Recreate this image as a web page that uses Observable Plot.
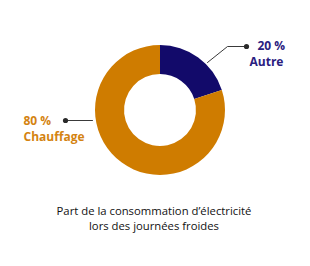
<!DOCTYPE html>
<html>
<head>
<meta charset="utf-8">
<script src="https://cdn.jsdelivr.net/npm/d3@7"></script>
<script src="https://cdn.jsdelivr.net/npm/@observablehq/plot@0.6"></script>
<style>
  html, body { margin: 0; padding: 0; background: #fff; }
  #chart { width: 310px; height: 266px; position: relative; font-family: "Open Sans", sans-serif; }
  #caption { position: absolute; left: 0; top: 203px; width: 308px; text-align: center; font-size: 11.3px; line-height: 15px; color: #111; }
</style>
</head>
<body>
<div id="chart"></div>
<script>
const categories = ["Autre", "Chauffage"];
const shares = [20, 80];
const shareLabels = ["20 %", "80 %"];
const fills = ["#120a6a", "#cf7c00"];
const textFills = ["#2a2080", "#d48311"];
const captionLines = ["Part de la consommation d’électricité", "lors des journées froides"];

const W = 310, H = 195;
const cx = 160, cy = 110, rOuter = 65, rInner = 36;

const data = categories.map((c, i) => ({category: c, share: shares[i], label: shareLabels[i], fill: fills[i], text: textFills[i]}));
const arcs = d3.pie().sort(null).value(d => d.share)(data);
const arcGen = d3.arc().innerRadius(rInner).outerRadius(rOuter);

// label layout (positions of annotations)
const layout = {
  "Autre": {line: [[207, 62], [227, 46], [246, 46]], dot: [246, 46], tx: [[257, 46, "label"], [249, 62, "category"]]},
  "Chauffage": {line: [[92, 120], [65, 120]], dot: [65, 120], tx: [[23, 121, "label"], [23, 137, "category"]]}
};

const linePts = data.flatMap(d => layout[d.category].line.map(([x, y]) => ({x, y, cat: d.category})));
const dots = data.map(d => ({x: layout[d.category].dot[0], y: layout[d.category].dot[1]}));
const texts = data.flatMap(d => layout[d.category].tx.map(([x, y, k]) => ({x, y, t: d[k], fill: d.text})));

function donut(index, {x, y}) {
  const g = d3.create("svg:g").attr("transform", `translate(${x(cx)},${y(cy)})`);
  g.selectAll("path").data(arcs).join("path")
    .attr("d", arcGen)
    .attr("fill", d => d.data.fill);
  return g.node();
}

const plot = Plot.plot({
  width: W, height: H,
  margin: 0,
  x: {domain: [0, W], range: [0, W], axis: null},
  y: {domain: [0, H], range: [0, H], axis: null},
  style: {fontFamily: "Open Sans, sans-serif", background: "transparent"},
  marks: [
    donut,
    Plot.line(linePts, {x: "x", y: "y", z: "cat", stroke: "#3a3a3a", strokeWidth: 1}),
    Plot.dot(dots, {x: "x", y: "y", r: 2.6, fill: "#2a2a2a"}),
    Plot.text(texts, {x: "x", y: "y", text: "t", fill: "fill", textAnchor: "start", fontSize: 12, fontWeight: "bold"})
  ]
});

const chart = document.getElementById("chart");
chart.appendChild(plot);
const cap = document.createElement("div");
cap.id = "caption";
cap.innerHTML = captionLines.join("<br>");
chart.appendChild(cap);
</script>
</body>
</html>
